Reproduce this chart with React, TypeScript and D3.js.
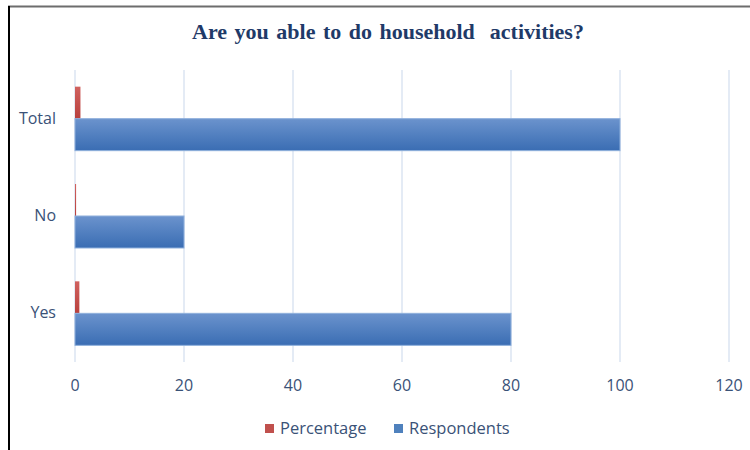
import React from "react";
import * as d3 from "d3";

const categories = ["Total", "No", "Yes"];
const respondents = [100, 20, 80];
const percentage = [1.0, 0.2, 0.8];
const xTicks = [0, 20, 40, 60, 80, 100, 120];
const seriesNames = ["Percentage", "Respondents"];

export default function App() {
  const W = 750, H = 450;
  const x = d3.scaleLinear().domain([0, 120]).range([75, 729]);
  const y = d3.scaleBand().domain(categories).range([70, 362]);
  const inner = d3.scaleBand().domain(seriesNames).range([y.bandwidth() / 2 - 32, y.bandwidth() / 2 + 32]);
  const font = "'Open Sans', Lato, sans-serif";
  const textColor = "#3a5277";
  return (
    <svg width={W} height={H} style={{ position: "absolute", left: 0, top: 0 }}>
      <defs>
        <linearGradient id="gBlue" x1="0" y1="0" x2="0" y2="1">
          <stop offset="0" stopColor="#6b93cd" />
          <stop offset="1" stopColor="#3a6db3" />
        </linearGradient>
        <linearGradient id="gRed" x1="0" y1="0" x2="0" y2="1">
          <stop offset="0" stopColor="#d0625f" />
          <stop offset="1" stopColor="#b8403d" />
        </linearGradient>
      </defs>
      <rect x={0} y={0} width={W} height={H} fill="#fff" />
      <line x1={8} x2={W} y1={6.5} y2={6.5} stroke="#6d6d6d" strokeWidth={2} />
      <line x1={9} x2={9} y1={6} y2={H} stroke="#000" strokeWidth={2} />
      <text x={388} y={39} textAnchor="middle" fontFamily="'Liberation Serif', 'Times New Roman', serif" fontWeight="bold" fontSize={22} fill="#1f3a68" style={{ whiteSpace: "pre", wordSpacing: "2px" }}>
        {"Are you able to do household  activities?"}
      </text>
      {xTicks.map((t) => (
        <g key={t}>
          <line x1={x(t)} x2={x(t)} y1={70} y2={362} stroke="#dbe5f2" strokeWidth={1.5} />
          <text x={x(t)} y={391} textAnchor="middle" fontFamily={font} fontSize={16} fill={textColor}>{t}</text>
        </g>
      ))}
      {categories.map((c, i) => (
        <g key={c} transform={`translate(0,${y(c)})`}>
          <text x={56} y={y.bandwidth() / 2 + 5} textAnchor="end" fontFamily={font} fontSize={16} fill={textColor}>{c}</text>
          <rect x={x(0)} y={inner("Percentage")} width={x(percentage[i]) - x(0)} height={inner.bandwidth()} fill="url(#gRed)" />
          <rect x={x(0)} y={inner("Respondents")} width={x(respondents[i]) - x(0)} height={inner.bandwidth()} fill="url(#gBlue)" stroke="#8fb0dc" strokeWidth={1} />
        </g>
      ))}
      <g fontFamily={font} fontSize={16.5} fill={textColor}>
        <rect x={265} y={424} width={9} height={9} fill="#c0504d" />
        <text x={280} y={434}>{seriesNames[0]}</text>
        <rect x={394} y={424} width={9} height={9} fill="#4f81bd" />
        <text x={409} y={434}>{seriesNames[1]}</text>
      </g>
    </svg>
  );
}
